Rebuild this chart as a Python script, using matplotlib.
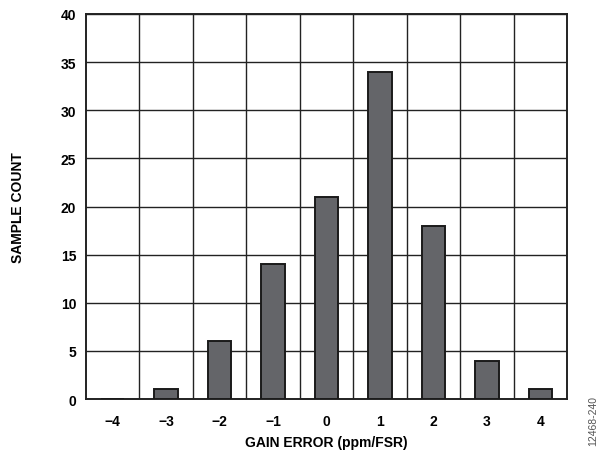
import numpy as np
import matplotlib
matplotlib.use('Agg')
import matplotlib.pyplot as plt

plt.rcParams['font.family'] = ['Liberation Sans', 'DejaVu Sans']

gain_error = [-4, -3, -2, -1, 0, 1, 2, 3, 4]
sample_count = [0, 1, 6, 14, 21, 34, 18, 4, 1]
x_labels = ['\u22124', '\u22123', '\u22122', '\u22121', '0', '1', '2', '3', '4']
y_ticks = [0, 5, 10, 15, 20, 25, 30, 35, 40]

fig = plt.figure(figsize=(6.05, 4.52), dpi=100)
ax = fig.add_axes([86/605, 1 - 400/452, 481/605, 385/452])

ax.bar(gain_error, sample_count, width=0.44, color='#646569',
       edgecolor='#1a1a1a', linewidth=1.4, zorder=3)

ax.set_xlim(-4.5, 4.5)
ax.set_ylim(0, 40)
ax.set_xticks(gain_error)
ax.set_xticklabels(x_labels)
ax.set_yticks(y_ticks)
ax.set_xticks(np.arange(-3.5, 4.0, 1.0), minor=True)
ax.tick_params(which='both', length=0)
ax.tick_params(axis='x', pad=11)
ax.tick_params(axis='y', pad=7)
for lab in ax.get_xticklabels() + ax.get_yticklabels():
    lab.set_fontweight('bold')
    lab.set_fontsize(10)

ax.grid(True, axis='y', which='major', color='#222222', linewidth=1.0, zorder=0)
ax.grid(True, axis='x', which='minor', color='#222222', linewidth=1.0, zorder=0)
for s in ax.spines.values():
    s.set_color('#222222')
    s.set_linewidth(1.4)

ax.set_xlabel('GAIN ERROR (ppm/FSR)', fontweight='bold', fontsize=10, labelpad=5)
ax.set_ylabel('SAMPLE COUNT', fontweight='bold', fontsize=10, labelpad=26)

fig.text(593/605, 1 - 421/452, '12468-240', rotation=90, fontsize=7.5,
         color='#555555', ha='center', va='center')

fig.savefig('out.png', dpi=100)
